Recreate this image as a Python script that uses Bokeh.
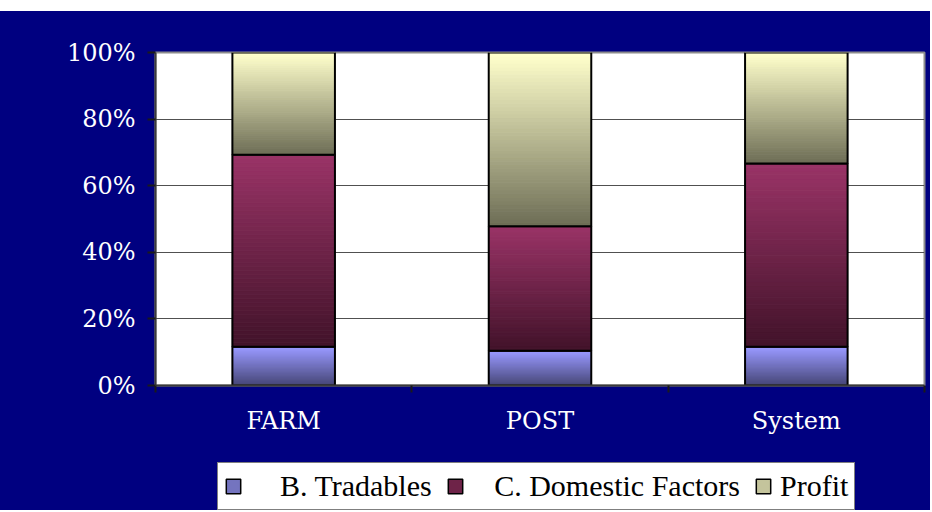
from bokeh.plotting import figure
from bokeh.layouts import column
from bokeh.models import Range1d, FixedTicker, PrintfTickFormatter, Legend, LegendItem, Spacer
from bokeh.core.properties import value
from bokeh.embed import file_html
from bokeh.resources import INLINE

# ---- data (shares in %) ----
categories = ["FARM", "POST", "System"]
tradables = [11.6, 10.4, 11.6]
domestic = [57.7, 37.4, 55.1]
profit = [30.7, 52.2, 33.3]
series_names = ["B. Tradables", "C. Domestic Factors", "Profit"]
y_ticks = [0, 20, 40, 60, 80, 100]

# ---- styling ----
NAVY = "#000080"
# gradient colours: (top, bottom) of each segment
grad = {
    "B. Tradables": ((153, 153, 255), (70, 70, 118)),
    "C. Domestic Factors": ((153, 51, 102), (66, 19, 42)),
    "Profit": ((255, 255, 204), (110, 110, 86)),
}
legend_fill = {
    "B. Tradables": "#7474bf",
    "C. Domestic Factors": "#6e2348",
    "Profit": "#c4c49c",
}
NB = "\u00a0"
legend_pad = {"B. Tradables": NB * 4, "C. Domestic Factors": NB * 3, "Profit": ""}

p = figure(width=930, height=444, output_backend="svg", toolbar_location=None,
           x_range=Range1d(0, len(categories)), y_range=Range1d(0, 100),
           min_border_left=155, min_border_right=6, min_border_top=41, min_border_bottom=70,
           border_fill_color=NAVY, background_fill_color="white")
p.outline_line_color = "#8c8c8c"
p.outline_line_width = 2

xs = [i + 0.5 for i in range(len(categories))]
BAR_W = 0.4
N = 48

def hexcol(c):
    return "#%02x%02x%02x" % c

bottoms = [0.0] * len(categories)
for name, vals in zip(series_names, [tradables, domestic, profit]):
    top_c, bot_c = grad[name]
    sx, sb, st, sc = [], [], [], []
    for i, v in enumerate(vals):
        b0 = bottoms[i]
        for k in range(N):
            f = k / (N - 1)
            col = tuple(round(bot_c[j] + (top_c[j] - bot_c[j]) * f) for j in range(3))
            sx.append(xs[i])
            sb.append(b0 + v * k / N)
            st.append(b0 + v * (k + 1) / N)
            sc.append(hexcol(col))
    p.vbar(x=sx, bottom=sb, top=st, width=BAR_W, fill_color=sc, line_color=sc, line_width=1)
    seg_b = list(bottoms)
    seg_t = [b + v for b, v in zip(bottoms, vals)]
    p.vbar(x=xs, bottom=seg_b, top=seg_t, width=BAR_W, fill_color=None,
           line_color="black", line_width=2)
    bottoms = seg_t

# ---- axes ----
p.yaxis.ticker = FixedTicker(ticks=y_ticks)
p.yaxis.formatter = PrintfTickFormatter(format="%d%%")
p.yaxis.major_label_text_color = "white"
p.yaxis.major_label_text_font = "DejaVu Serif"
p.yaxis.major_label_text_font_size = "24px"
p.yaxis.major_label_standoff = 12
p.yaxis.major_tick_out = 8
p.yaxis.major_tick_in = 0
p.yaxis.major_tick_line_color = "#1a1a1a"
p.yaxis.major_tick_line_width = 2
p.yaxis.minor_tick_line_color = None
p.yaxis.axis_line_color = "#3a3a3a"
p.yaxis.axis_line_width = 2

p.xaxis.ticker = FixedTicker(ticks=xs, minor_ticks=list(range(len(categories) + 1)))
p.xaxis.major_label_overrides = {x: c for x, c in zip(xs, categories)}
p.xaxis.major_label_text_color = "white"
p.xaxis.major_label_text_font = "DejaVu Serif"
p.xaxis.major_label_text_font_size = "24px"
p.xaxis.major_tick_line_color = None
p.xaxis.major_tick_out = 7
p.xaxis.major_tick_in = 0
p.xaxis.minor_tick_out = 7
p.xaxis.minor_tick_in = 0
p.xaxis.minor_tick_line_color = "#1a1a1a"
p.xaxis.minor_tick_line_width = 2
p.xaxis.major_label_standoff = 14
p.xaxis.axis_line_color = "#3a3a3a"
p.xaxis.axis_line_width = 2

p.xgrid.visible = False
p.ygrid.ticker = FixedTicker(ticks=y_ticks)
p.ygrid.grid_line_color = "#505050"
p.ygrid.grid_line_width = 1

# ---- legend (own strip below the chart) ----
lg = figure(width=930, height=55, output_backend="svg", toolbar_location=None,
            x_axis_type=None, y_axis_type=None, min_border=0,
            x_range=Range1d(0, len(categories)), y_range=Range1d(0, 100),
            border_fill_color=None, background_fill_color=None, outline_line_color=None)
lg.xgrid.visible = False
lg.ygrid.visible = False
legend_items = []
for name, vals in zip(series_names, [tradables, domestic, profit]):
    # hidden copy of the series, used only for its legend swatch
    swatch = lg.vbar(x=xs, top=vals, width=BAR_W, fill_color=legend_fill[name],
                     line_color="black", line_width=1.5, visible=False)
    legend_items.append(LegendItem(label=value(legend_pad[name] + name), renderers=[swatch]))

legend = Legend(items=legend_items, location=(62, 0), orientation="horizontal",
                background_fill_color="white", background_fill_alpha=1.0,
                border_line_color="black", border_line_width=1,
                label_text_font="Liberation Serif", label_text_font_size="30px",
                label_text_color="black", glyph_width=18, glyph_height=18,
                label_standoff=8, spacing=14, padding=6, margin=0)
lg.add_layout(legend)

chart = column(p, lg, spacing=0, styles={"background-color": NAVY})
layout = column(Spacer(width=930, height=11), chart, spacing=0)
open("out.html", "w").write(file_html(layout, INLINE))
